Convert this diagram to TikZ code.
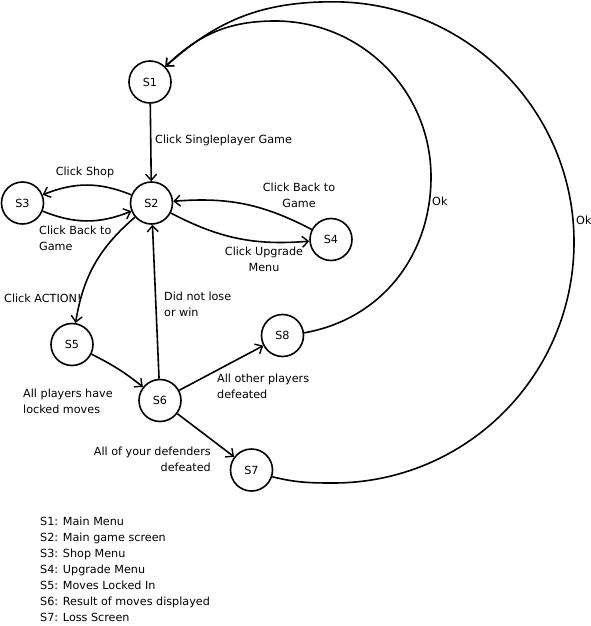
\documentclass[tikz,border=0pt]{standalone}
\usepackage{fontspec}
\setmainfont{DejaVu Sans}
\usetikzlibrary{arrows.meta}
\begin{document}
\begin{tikzpicture}[x=1pt,y=1pt,
  every node/.style={font=\fontsize{11.2pt}{16pt}\selectfont},
  state/.style={circle,draw,line width=1.6pt,minimum size=42pt,inner sep=0pt},
  lbl/.style={inner sep=0pt},
  arr/.style={line width=1.6pt,-{Straight Barb[length=6pt,width=11pt,line width=1.4pt]}}]
\useasboundingbox (0,0) rectangle (591,-626);
% states
\node[state] (S1) at (150,-82) {S1};
\node[state] (S2) at (151.5,-203) {S2};
\node[state] (S3) at (22.5,-203) {S3};
\node[state] (S4) at (331,-239.5) {S4};
\node[state] (S5) at (72,-344.5) {S5};
\node[state] (S6) at (160,-400.5) {S6};
\node[state] (S7) at (251.5,-470) {S7};
\node[state] (S8) at (282.5,-335.5) {S8};
% waypoints of the big arcs
\coordinate (i1) at (431,-177);
\coordinate (i2) at (275,-21);
\coordinate (o0) at (333,-483);
\coordinate (o1) at (574,-242);
\coordinate (o2) at (333,-1.8);
% connectors
\draw[arr] (S1) -- (S2);
\draw[arr] (S2) to[bend right=22] (S3);
\draw[arr] (S3) to[bend right=22] (S2);
\draw[arr] (S4) to[bend right=16] (S2);
\draw[arr] (S2) to[bend right=16] (S4);
\draw[arr] (S2) to[bend right=20] (S5);
\draw[arr] (S5) to[bend left=6] (S6);
\draw[arr] (S6) -- (S2);
\draw[arr] (S6) -- (S8);
\draw[arr] (S6) -- (S7);
\draw[arr] (S8.7) to[out=10,in=-90] (i1) to[out=90,in=0] (i2) to[out=180,in=44] (S1.45);
\draw[arr] (S7.-18) to[out=-14,in=180] (o0) to[out=0,in=-90] (o1) to[out=90,in=0] (o2) to[out=180,in=42] (S1.45);
% labels
\node[lbl,anchor=west] (l1) at (155,-140) {Click Singleplayer Game};
\node[lbl] (l2) at (85,-172) {Click Shop};
\node[lbl,anchor=west,align=left] (l3) at (39,-238) {Click Back to\\Game};
\node[lbl,align=center] (l4) at (299,-195) {Click Back to\\Game};
\node[lbl,align=center] (l5) at (264,-259.5) {Click Upgrade\\Menu};
\node[lbl,anchor=west] (l6) at (4,-298) {Click ACTION!};
\node[lbl,anchor=west,align=left] (l7) at (164,-304) {Did not lose\\or win};
\node[lbl,anchor=west,align=left] (l8) at (23,-401.5) {All players have\\locked moves};
\node[lbl,anchor=west,align=left] (l9) at (217,-386.5) {All other players\\defeated};
\node[lbl,anchor=east,align=right] (l10) at (211,-459.5) {All of your defenders\\defeated};
\node[lbl,anchor=west] (l11) at (432,-201) {Ok};
\node[lbl,anchor=west] (l12) at (576,-220) {Ok};
% legend
\node[lbl,anchor=north west,align=left] (leg) at (40,-517) {S1: Main Menu\\S2: Main game screen\\S3: Shop Menu\\S4: Upgrade Menu\\S5: Moves Locked In\\S6: Result of moves displayed\\S7: Loss Screen};
\end{tikzpicture}
\end{document}
